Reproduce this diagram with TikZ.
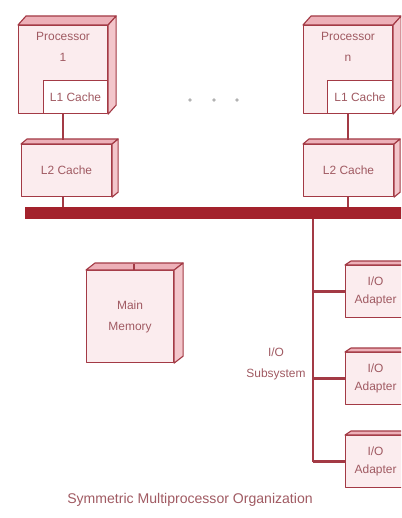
\documentclass[tikz,border=0pt]{standalone}
\usepackage{fontspec}
\setmainfont{Liberation Sans}
\usetikzlibrary{calc,positioning}
\definecolor{redline}{HTML}{A33A45}
\definecolor{face}{HTML}{FBECEE}
\definecolor{topc}{HTML}{EDB0B8}
\definecolor{sidec}{HTML}{F3C6CB}
\definecolor{busc}{HTML}{A3222C}
\definecolor{txt}{HTML}{A05A62}
\newcommand{\px}{0.025cm}
% top and right faces of a front node
\newcommand{\cube}[3]{\filldraw[rim,fill=topc] (#1.north west)--++(#2,-#3)--($(#1.north east)+(#2,-#3)$)--(#1.north east)--cycle;
\filldraw[rim,fill=sidec] (#1.north east)--($(#1.north east)+(#2,-#3)$)--($(#1.south east)+(#2,-#3)$)--(#1.south east)--cycle;}

\begin{document}
\begin{tikzpicture}[x=\px,y=-\px,
  rim/.style={draw=redline,line width=.8pt,line join=round},
  lbl/.style={font=\fontsize{8.5}{10}\selectfont,text=txt,align=center,inner sep=0pt},
  box/.style={rim,fill=face,lbl,anchor=north west},
  wire/.style={draw=redline,line width=1.5pt},
  branch/.style={draw=redline,line width=2.4pt}]
\useasboundingbox (0,0) rectangle (401,518);
\clip (0,0) rectangle (401,518);
% processors
\node[box,minimum width=89*\px,minimum height=88*\px] (proc1) at (18,25) {};\cube{proc1}{8}{9}
\node[box,fill=white,minimum width=64*\px,minimum height=33*\px,anchor=south east] (l1a) at (proc1.south east) {L1 Cache};
\node[lbl] (p1txt) at ($(proc1.north)+(0,22)$) {Processor\\[5pt]1};
\node[box,minimum width=89*\px,minimum height=88*\px] (procn) at (303,25) {};\cube{procn}{8}{9}
\node[box,fill=white,minimum width=65*\px,minimum height=33*\px,anchor=south east] (l1n) at (procn.south east) {L1 Cache};
\node[lbl] (pntxt) at ($(procn.north)+(0,22)$) {Processor\\[5pt]n};
\foreach \x in {190,214,237} \fill[gray!60] (\x,100) circle (1.3pt);
% L2 caches and bus
\node[box,minimum width=90*\px,minimum height=52*\px] (l2a) at (21,144) {L2 Cache};\cube{l2a}{6}{5}
\node[box,minimum width=90*\px,minimum height=52*\px] (l2n) at (303,144) {L2 Cache};\cube{l2n}{6}{5}
\node[fill=busc,inner sep=0pt,anchor=north west,minimum width=390*\px,minimum height=12*\px] (bus) at (25,207) {};
\draw[wire] (proc1.south) -- ($(proc1.south |- l2a.north)+(0,-4)$);
\draw[wire] (procn.south) -- ($(procn.south |- l2n.north)+(0,-4)$);
\draw[wire] (proc1.south |- l2a.south) -- (proc1.south |- bus.north);
\draw[wire] (procn.south |- l2n.south) -- (procn.south |- bus.north);
% memory
\node[box,minimum width=87*\px,minimum height=92*\px] (mem) at (86,270) {Main\\[5pt]Memory};\cube{mem}{9}{7}
\draw[wire] ($(mem.north)+(4,0)$ |- bus.south) -- ($(mem.north)+(4,-6)$);
% I/O subsystem
\foreach \y/\n in {265/io1,352/io2,435/io3}{
\node[box,minimum width=60*\px,minimum height=52*\px] (\n) at (345,\y) {I/O\\[3pt]Adapter};\cube{\n}{6}{4}}
\coordinate (iotop) at (313,219);
\draw[wire] (iotop) -- (iotop |- io3.west);
\foreach \n in {io1,io2,io3} \draw[branch] (iotop |- \n.west) -- (\n.west);
\node[lbl] (iosub) at (276,364) {I/O\\[5pt]Subsystem};
\node[lbl,font=\fontsize{10}{12}\selectfont] (title) at (190,500) {Symmetric Multiprocessor Organization};
\end{tikzpicture}
\end{document}
